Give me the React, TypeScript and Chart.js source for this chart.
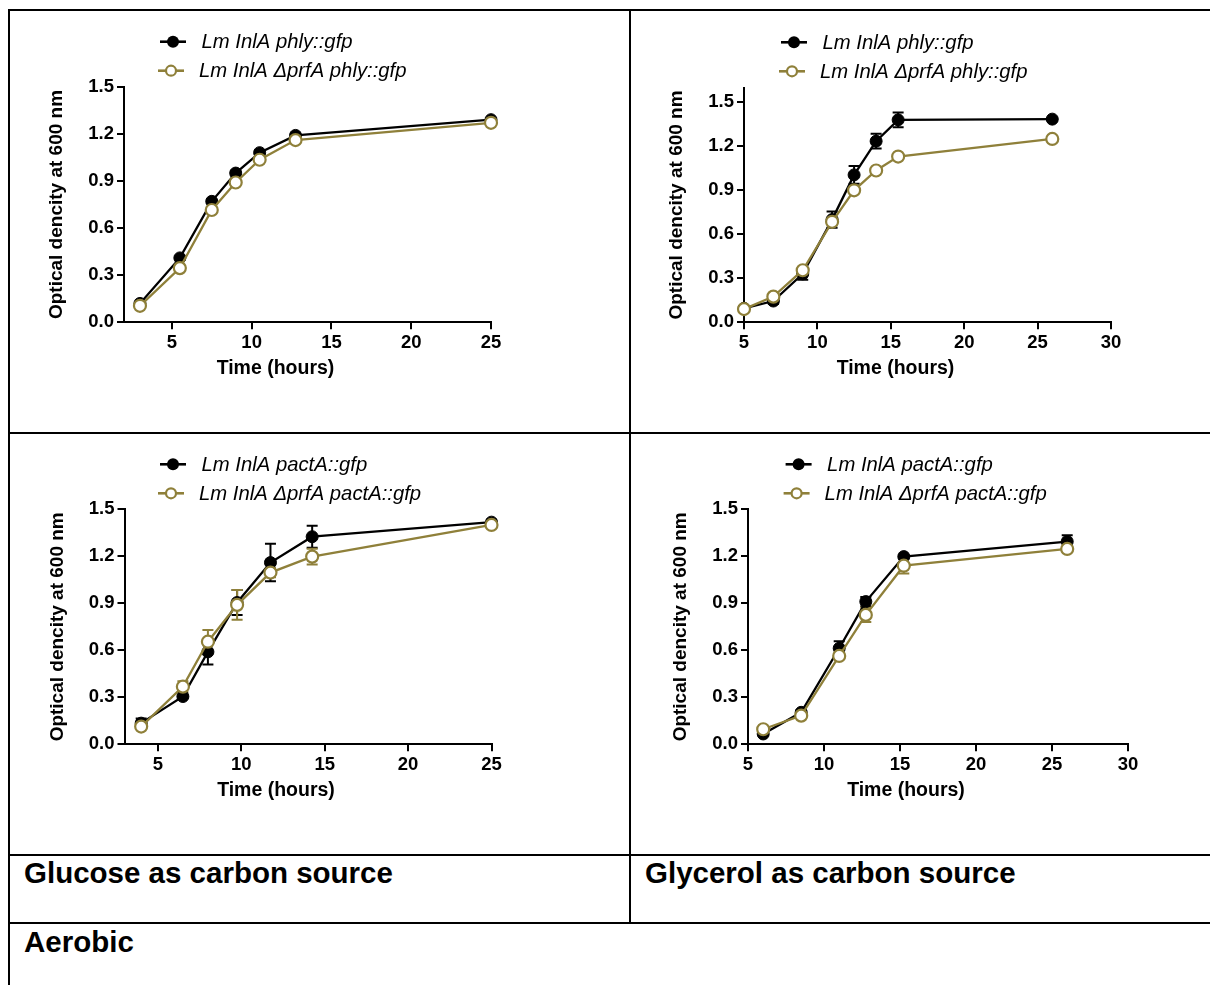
import React, { useEffect, useRef } from "react";
import { Chart, registerables } from "chart.js";

Chart.register(...registerables);

const FONT = '"Liberation Sans", Arial, Helvetica, sans-serif';
const BLACK = "#000000";
const GOLD = "#8f803a";

// Glucose, phly::gfp reporter strains
const glucosePhlyHours = [3, 5.5, 7.5, 9, 10.5, 12.75, 25];
const glucosePhlyWt = [0.12, 0.41, 0.77, 0.95, 1.08, 1.19, 1.29];
const glucosePhlyWtErr = [0.01, 0.01, 0.01, 0.015, 0.015, 0.01, 0.01];
const glucosePhlyMut = [0.105, 0.345, 0.715, 0.89, 1.035, 1.16, 1.27];
const glucosePhlyMutErr = [0.01, 0.01, 0.01, 0.01, 0.01, 0.01, 0.01];

// Glycerol, phly::gfp reporter strains
const glycerolPhlyHours = [5, 7, 9, 11, 12.5, 14, 15.5, 26];
const glycerolPhlyWt = [0.095, 0.145, 0.33, 0.7, 1.005, 1.235, 1.38, 1.385];
const glycerolPhlyWtErr = [0.01, 0.02, 0.04, 0.055, 0.06, 0.05, 0.05, 0.01];
const glycerolPhlyMut = [0.09, 0.175, 0.355, 0.685, 0.9, 1.035, 1.13, 1.25];
const glycerolPhlyMutErr = [0.01, 0.01, 0.02, 0.02, 0.02, 0.01, 0.01, 0.01];

// Glucose, pactA::gfp reporter strains
const glucosePactHours = [4, 6.5, 8, 9.75, 11.75, 14.25, 25];
const glucosePactWt = [0.135, 0.305, 0.59, 0.905, 1.16, 1.325, 1.418];
const glucosePactWtErr = [0.03, 0.01, 0.08, 0.08, 0.12, 0.07, 0.015];
const glucosePactMut = [0.113, 0.368, 0.655, 0.89, 1.096, 1.198, 1.4];
const glucosePactMutErr = [0.01, 0.035, 0.075, 0.095, 0.03, 0.05, 0.02];

// Glycerol, pactA::gfp reporter strains
const glycerolPactHours = [6, 8.5, 11, 12.75, 15.25, 26];
const glycerolPactWt = [0.066, 0.204, 0.613, 0.911, 1.198, 1.294];
const glycerolPactWtErr = [0.01, 0.015, 0.045, 0.03, 0.01, 0.04];
const glycerolPactMut = [0.096, 0.183, 0.564, 0.826, 1.14, 1.247];
const glycerolPactMutErr = [0.01, 0.01, 0.02, 0.045, 0.05, 0.01];

const glucoseHourTicks = [5, 10, 15, 20, 25];
const glycerolHourTicks = [5, 10, 15, 20, 25, 30];
const odTicks = [0, 0.3, 0.6, 0.9, 1.2, 1.5];

const phlyLabels = ["Lm InlA phly::gfp", "Lm InlA \u0394prfA phly::gfp"];
const pactLabels = ["Lm InlA pactA::gfp", "Lm InlA \u0394prfA pactA::gfp"];

const xTitle = "Time (hours)";
const yTitle = "Optical dencity at 600 nm";

type Area = { left: number; top: number; right: number; bottom: number };

type PanelProps = {
  width: number;
  height: number;
  hours: number[];
  wt: number[];
  wtErr: number[];
  mut: number[];
  mutErr: number[];
  xMin: number;
  xMax: number;
  yMax: number;
  xTicks: number[];
  labels: string[];
  area: Area;
  legend: { x: number; y: number };
};

function drawMarker(ctx: CanvasRenderingContext2D, x: number, y: number, filled: boolean) {
  ctx.beginPath();
  if (filled) {
    ctx.arc(x, y, 6, 0, Math.PI * 2);
    ctx.fillStyle = BLACK;
    ctx.fill();
  } else {
    ctx.arc(x, y, 5, 0, Math.PI * 2);
    ctx.fillStyle = "#ffffff";
    ctx.fill();
    ctx.lineWidth = 2.2;
    ctx.strokeStyle = GOLD;
    ctx.stroke();
  }
}

function GrowthPanel(p: PanelProps) {
  const ref = useRef<HTMLCanvasElement | null>(null);

  useEffect(() => {
    if (!ref.current) return;

    const errorBars = {
      id: "errorBars",
      beforeDatasetsDraw(chart: any) {
        const ctx = chart.ctx as CanvasRenderingContext2D;
        const yScale = chart.scales.y;
        chart.data.datasets.forEach((ds: any, i: number) => {
          const meta = chart.getDatasetMeta(i);
          ctx.save();
          ctx.strokeStyle = ds.borderColor;
          ctx.lineWidth = 2;
          meta.data.forEach((el: any, j: number) => {
            const v = ds.data[j].y;
            const e = ds.errors[j];
            const yTop = yScale.getPixelForValue(v + e);
            const yBot = yScale.getPixelForValue(v - e);
            const x = el.x;
            ctx.beginPath();
            ctx.moveTo(x, yTop);
            ctx.lineTo(x, yBot);
            ctx.moveTo(x - 5.5, yTop);
            ctx.lineTo(x + 5.5, yTop);
            ctx.moveTo(x - 5.5, yBot);
            ctx.lineTo(x + 5.5, yBot);
            ctx.stroke();
          });
          ctx.restore();
        });
      },
    };

    const annotations = {
      id: "panelText",
      afterDraw(chart: any) {
        const ctx = chart.ctx as CanvasRenderingContext2D;
        const a = chart.chartArea;
        ctx.save();
        ctx.fillStyle = BLACK;
        // axis titles
        ctx.font = `bold 19.5px ${FONT}`;
        ctx.textAlign = "center";
        ctx.textBaseline = "middle";
        ctx.fillText(xTitle, (a.left + a.right) / 2 - 32, a.bottom + 46);
        ctx.save();
        ctx.translate(a.left - 67, (a.top + a.bottom) / 2);
        ctx.rotate(-Math.PI / 2);
        ctx.font = `bold 19px ${FONT}`;
        ctx.fillText(yTitle, 0, 0);
        ctx.restore();

        // legend
        const lx = p.legend.x;
        const ly = p.legend.y;
        const rows = [
          { y: ly, x0: lx, filled: true, color: BLACK, tx: lx + 41.5, text: p.labels[0] },
          { y: ly + 29, x0: lx - 2, filled: false, color: GOLD, tx: lx + 39, text: p.labels[1] },
        ];
        rows.forEach((r) => {
          ctx.beginPath();
          ctx.strokeStyle = r.color;
          ctx.lineWidth = 2.6;
          ctx.moveTo(r.x0, r.y);
          ctx.lineTo(r.x0 + 26, r.y);
          ctx.stroke();
          drawMarker(ctx, r.x0 + 13, r.y, r.filled);
          ctx.fillStyle = BLACK;
          ctx.font = `italic 20.3px ${FONT}`;
          ctx.textAlign = "left";
          ctx.textBaseline = "middle";
          ctx.fillText(r.text, r.tx, r.y + 1);
        });
        ctx.restore();
      },
    };

    const axisStyle = {
      grid: {
        display: true,
        drawOnChartArea: false,
        drawTicks: true,
        tickLength: 7,
        lineWidth: 2,
        color: BLACK,
      },
      border: { display: true, color: BLACK, width: 2 },
    };

    const chart = new Chart(ref.current, {
      type: "line",
      data: {
        datasets: [
          {
            label: p.labels[0],
            data: p.hours.map((h, i) => ({ x: h, y: p.wt[i] })),
            errors: p.wtErr,
            borderColor: BLACK,
            backgroundColor: BLACK,
            borderWidth: 2.3,
            pointRadius: 6,
            pointBorderWidth: 1,
            pointBackgroundColor: BLACK,
            pointBorderColor: BLACK,
            tension: 0,
            clip: false,
            order: 2,
          } as any,
          {
            label: p.labels[1],
            data: p.hours.map((h, i) => ({ x: h, y: p.mut[i] })),
            errors: p.mutErr,
            borderColor: GOLD,
            backgroundColor: GOLD,
            borderWidth: 2.3,
            pointRadius: 6,
            pointBorderWidth: 2.2,
            pointBackgroundColor: "#ffffff",
            pointBorderColor: GOLD,
            tension: 0,
            clip: false,
            order: 1,
          } as any,
        ],
      },
      options: {
        responsive: false,
        animation: false,
        devicePixelRatio: 1,
        layout: {
          padding: {
            left: 0,
            bottom: 0,
            top: p.area.top,
            right: p.width - p.area.right,
          },
        },
        plugins: {
          legend: { display: false },
          tooltip: { enabled: false },
        },
        scales: {
          x: {
            type: "linear",
            min: p.xMin,
            max: p.xMax,
            ...axisStyle,
            afterFit: (s: any) => {
              s.height = p.height - p.area.bottom;
            },
            afterBuildTicks: (s: any) => {
              s.ticks = p.xTicks.map((v) => ({ value: v }));
            },
            ticks: {
              color: BLACK,
              padding: 3,
              maxRotation: 0,
              font: { family: FONT, size: 18.5, weight: "bold" },
              callback: (v: any) => String(v),
            },
          },
          y: {
            type: "linear",
            min: 0,
            max: p.yMax,
            ...axisStyle,
            afterFit: (s: any) => {
              s.width = p.area.left;
            },
            afterBuildTicks: (s: any) => {
              s.ticks = odTicks.map((v) => ({ value: v }));
            },
            ticks: {
              color: BLACK,
              padding: 3,
              font: { family: FONT, size: 18.5, weight: "bold" },
              callback: (v: any) => Number(v).toFixed(1),
            },
          },
        } as any,
      },
      plugins: [errorBars, annotations],
    } as any);

    return () => chart.destroy();
  }, []);

  return (
    <canvas
      ref={ref}
      width={p.width}
      height={p.height}
      style={{ width: p.width, height: p.height, display: "block" }}
    />
  );
}

const rule = (left: number, top: number, width: number, height: number) => (
  <div style={{ position: "absolute", left, top, width, height, background: BLACK }} />
);

const cellText: React.CSSProperties = {
  position: "absolute",
  fontFamily: FONT,
  fontWeight: "bold",
  fontSize: 29.5,
  lineHeight: "32px",
  color: BLACK,
  whiteSpace: "nowrap",
};

export default function App() {
  return (
    <div
      style={{
        position: "fixed",
        left: 0,
        top: 0,
        width: 1210,
        height: 985,
        overflow: "hidden",
        background: "#fff",
      }}
    >
      <div style={{ position: "absolute", left: 10, top: 11 }}>
        <GrowthPanel
          width={619}
          height={421}
          hours={glucosePhlyHours}
          wt={glucosePhlyWt}
          wtErr={glucosePhlyWtErr}
          mut={glucosePhlyMut}
          mutErr={glucosePhlyMutErr}
          xMin={2}
          xMax={25}
          yMax={1.5}
          xTicks={glucoseHourTicks}
          labels={phlyLabels}
          area={{ left: 114, top: 75.7, right: 481, bottom: 311.3 }}
          legend={{ x: 150, y: 30.7 }}
        />
      </div>
      <div style={{ position: "absolute", left: 631, top: 11 }}>
        <GrowthPanel
          width={579}
          height={421}
          hours={glycerolPhlyHours}
          wt={glycerolPhlyWt}
          wtErr={glycerolPhlyWtErr}
          mut={glycerolPhlyMut}
          mutErr={glycerolPhlyMutErr}
          xMin={5}
          xMax={30}
          yMax={1.6}
          xTicks={glycerolHourTicks}
          labels={phlyLabels}
          area={{ left: 113, top: 76.6, right: 480, bottom: 311.3 }}
          legend={{ x: 150, y: 31.3 }}
        />
      </div>
      <div style={{ position: "absolute", left: 10, top: 434 }}>
        <GrowthPanel
          width={619}
          height={420}
          hours={glucosePactHours}
          wt={glucosePactWt}
          wtErr={glucosePactWtErr}
          mut={glucosePactMut}
          mutErr={glucosePactMutErr}
          xMin={3}
          xMax={25}
          yMax={1.5}
          xTicks={glucoseHourTicks}
          labels={pactLabels}
          area={{ left: 114.5, top: 75.3, right: 481.5, bottom: 310.3 }}
          legend={{ x: 150, y: 30.3 }}
        />
      </div>
      <div style={{ position: "absolute", left: 631, top: 434 }}>
        <GrowthPanel
          width={579}
          height={420}
          hours={glycerolPactHours}
          wt={glycerolPactWt}
          wtErr={glycerolPactWtErr}
          mut={glycerolPactMut}
          mutErr={glycerolPactMutErr}
          xMin={5}
          xMax={30}
          yMax={1.5}
          xTicks={glycerolHourTicks}
          labels={pactLabels}
          area={{ left: 117, top: 75.3, right: 497, bottom: 310.3 }}
          legend={{ x: 154.6, y: 30.3 }}
        />
      </div>

      {/* table rules */}
      {rule(8, 9, 1202, 2)}
      {rule(8, 9, 2, 976)}
      {rule(629, 9, 2, 914)}
      {rule(8, 432, 1202, 2)}
      {rule(8, 854, 1202, 2)}
      {rule(8, 922, 1202, 2)}

      <div style={{ ...cellText, left: 24, top: 857 }}>Glucose as carbon source</div>
      <div style={{ ...cellText, left: 645, top: 857 }}>Glycerol as carbon source</div>
      <div style={{ ...cellText, left: 24, top: 926 }}>Aerobic</div>
    </div>
  );
}
